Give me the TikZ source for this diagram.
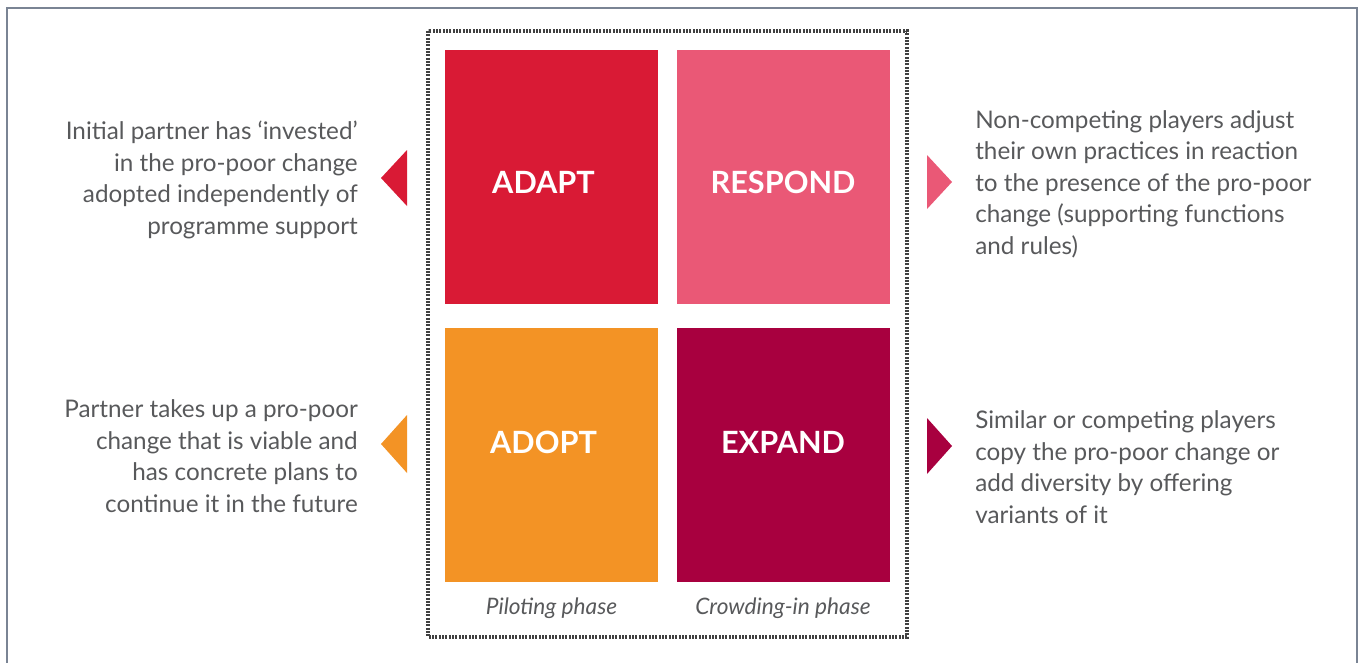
\documentclass[tikz,border=0pt]{standalone}
\usepackage{fontspec}
\setmainfont{Lato}
\usetikzlibrary{positioning}
\definecolor{adaptcolor}{RGB}{217,26,53}
\definecolor{respondcolor}{RGB}{234,88,118}
\definecolor{adoptcolor}{RGB}{243,147,37}
\definecolor{expandcolor}{RGB}{168,0,63}
\definecolor{textcolor}{RGB}{88,89,91}
\definecolor{framecolor}{RGB}{122,132,148}
\definecolor{dotcolor}{RGB}{64,64,64}

\begin{document}
\begin{tikzpicture}[x=0.75pt,y=-0.75pt]
  \tikzstyle{phase}=[minimum width=159.75pt,minimum height=190.5pt,inner sep=0pt]
  \tikzstyle{boxlabel}=[inner sep=0pt,text=white,font=\bfseries\fontsize{23}{26}\selectfont]
  \tikzstyle{side}=[inner sep=0pt,text=textcolor,font=\fontsize{18.2}{23.6}\selectfont]
  \tikzstyle{stage}=[inner sep=0pt,text=textcolor,font=\itshape\fontsize{17}{20}\selectfont]

  \useasboundingbox (0,0) rectangle (1359,662);
  \draw[framecolor,line width=1.5pt] (7,670) -- (7,8) -- (1357,8) -- (1357,670);
  \draw[dotcolor,line width=2.6pt,dash pattern=on 1.4pt off 1.1pt] (428,31) rectangle (907,637);

  \node[phase, fill=adaptcolor]   (adapt)   at (551.5,177) {};
  \node[phase, fill=respondcolor] (respond) [right=13.5pt of adapt] {};
  \node[phase, fill=adoptcolor]   (adopt)   [below=17.25pt of adapt] {};
  \node[phase, fill=expandcolor]  (expand)  [below=17.25pt of respond] {};

  \node[boxlabel] (adaptname)   at ([xshift=-6pt,yshift=-3.75pt]adapt.center)  {ADAPT};
  \node[boxlabel] (respondname) at ([yshift=-3.75pt]respond.center)            {RESPOND};
  \node[boxlabel] (adoptname)   at ([xshift=-6pt,yshift=9pt]adopt.center)      {ADOPT};
  \node[boxlabel] (expandname)  at ([yshift=9pt]expand.center)                 {EXPAND};

  \node[stage] (pilot) [below=12pt of adopt] {Piloting phase};
  \node[stage] (crowd) [below=12pt of expand] {Crowding-in phase};

  \node[side, align=right, anchor=east] (adapttext) at (358,180)
    {Initial partner has ‘invested’\\in the pro-poor change\\adopted independently of\\programme support};
  \node[side, align=right, anchor=east] (adopttext) at (358,456)
    {Partner takes up a pro-poor\\change that is viable and\\has concrete plans to\\continue it in the future};
  \node[side, align=left, anchor=west] (respondtext) at (975,184)
    {Non-competing players adjust\\their own practices in reaction\\to the presence of the pro-poor\\change (supporting functions\\and rules)};
  \node[side, align=left, anchor=west] (expandtext) at (975,467)
    {Similar or competing players\\copy the pro-poor change or\\add diversity by offering\\variants of it};

  \fill[adaptcolor]   (381,178) -- (407,150) -- (407,206) -- cycle;
  \fill[adoptcolor]   (381,444) -- (407,415) -- (407,473) -- cycle;
  \fill[respondcolor] (952,182) -- (927,155) -- (927,209) -- cycle;
  \fill[expandcolor]  (952,446) -- (927,418) -- (927,474) -- cycle;
\end{tikzpicture}
\end{document}
